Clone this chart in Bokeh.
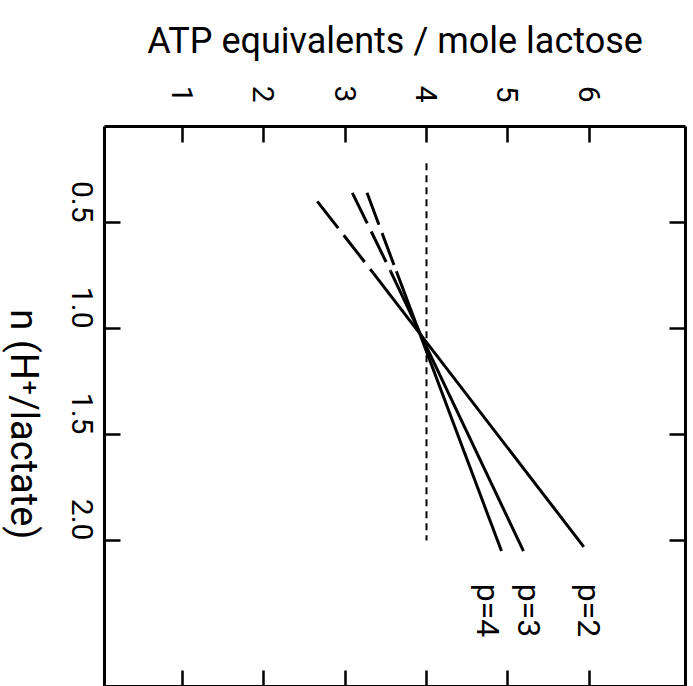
import math
from bokeh.plotting import figure
from bokeh.layouts import row
from bokeh.models import Range1d, LinearAxis, FixedTicker, Label
from bokeh.embed import file_html
from bokeh.resources import INLINE

# ---- data ----
atp_ticks = [1, 2, 3, 4, 5, 6]
n_ticks = [0.5, 1.0, 1.5, 2.0]
n_tick_labels = ["0.5", "1.0", "1.5", "2.0"]

series_names = ["p=2", "p=3", "p=4"]
# n values: start of dashed part, end of dashed part, end of solid part
n_p2 = [0.40, 0.74, 2.03]
atp_p2 = [2.66, 3.35, 5.93]
n_p3 = [0.36, 0.73, 2.05]
atp_p3 = [3.09, 3.56, 5.19]
n_p4 = [0.36, 0.73, 2.05]
atp_p4 = [3.27, 3.63, 4.92]

ref_atp = [4.0, 4.0]
ref_n = [0.22, 2.0]

x_title = "ATP equivalents / mole lactose"
y_title = "n (H\u207a/lactate)"

FONT = "Roboto"
TITLE_W = 46

# --- narrow strip holding the rotated y-axis title ---
t = figure(width=TITLE_W, height=686, output_backend="svg", toolbar_location=None,
           x_range=Range1d(0, TITLE_W), y_range=Range1d(686, 0),
           x_axis_location=None, y_axis_location=None,
           min_border=0)
t.grid.visible = False
t.outline_line_color = None
t.border_fill_color = "white"
t.background_fill_color = "white"
t.add_layout(Label(x=23, y=365, text=y_title, angle=-math.pi / 2,
                   text_font=FONT, text_font_size="38px", text_color="black",
                   text_align="center", text_baseline="middle"))

# --- main plot ---
p = figure(width=693 - TITLE_W, height=686, output_backend="svg", toolbar_location=None,
           x_range=Range1d(0.049, 7.178), y_range=Range1d(2.689, 0.047),
           x_axis_location=None, y_axis_location=None,
           min_border_left=104 - TITLE_W, min_border_top=126, min_border_right=8,
           min_border_bottom=0)
p.grid.visible = False
p.outline_line_color = None
p.background_fill_color = "white"
p.border_fill_color = "white"

def style(ax, ticks, labels=True):
    ax.major_tick_in = 16
    ax.major_tick_out = 0
    ax.minor_tick_line_color = None
    ax.axis_line_width = 3
    ax.major_tick_line_width = 2.5
    ax.axis_line_color = "black"
    ax.major_tick_line_color = "black"
    if labels:
        ax.major_label_text_font = FONT
        ax.major_label_text_font_size = "30px"
        ax.major_label_text_color = "black"
    else:
        ax.major_label_overrides = {tk: "" for tk in ticks}
        ax.major_label_text_font_size = "1px"
        ax.major_label_standoff = 0

top = LinearAxis(ticker=FixedTicker(ticks=atp_ticks))
style(top, atp_ticks)
top.major_label_orientation = -math.pi / 2
top.major_label_standoff = 24
top.axis_label = x_title
top.axis_label_text_font = FONT
top.axis_label_text_font_size = "36px"
top.axis_label_text_font_style = "normal"
top.axis_label_text_color = "black"
top.axis_label_standoff = 21
p.add_layout(top, "above")

bottom = LinearAxis(ticker=FixedTicker(ticks=atp_ticks))
style(bottom, atp_ticks, labels=False)
p.add_layout(bottom, "below")

left = LinearAxis(ticker=FixedTicker(ticks=n_ticks),
                  major_label_overrides={tk: s for tk, s in zip(n_ticks, n_tick_labels)})
style(left, n_ticks)
left.major_label_orientation = -math.pi / 2
left.major_label_standoff = 22
p.add_layout(left, "left")

right = LinearAxis(ticker=FixedTicker(ticks=n_ticks))
style(right, n_ticks, labels=False)
p.add_layout(right, "right")

# reference line at 4 ATP
p.line(ref_atp, ref_n, line_color="black", line_width=2, line_dash="7 5")

for n_vals, atp_vals in [(n_p2, atp_p2), (n_p3, atp_p3), (n_p4, atp_p4)]:
    p.line(atp_vals[:2], n_vals[:2], line_color="black", line_width=3, line_dash="34 9")
    p.line(atp_vals[1:], n_vals[1:], line_color="black", line_width=3)

# series labels (rotated)
for name, x in zip(series_names, [5.99, 5.26, 4.75]):
    p.add_layout(Label(x=x, y=2.33, text=name, angle=-math.pi / 2,
                       text_font=FONT, text_font_size="32px", text_color="black",
                       text_align="center", text_baseline="middle"))

layout = row(t, p, spacing=0)
open("out.html", "w").write(file_html(layout, INLINE))
